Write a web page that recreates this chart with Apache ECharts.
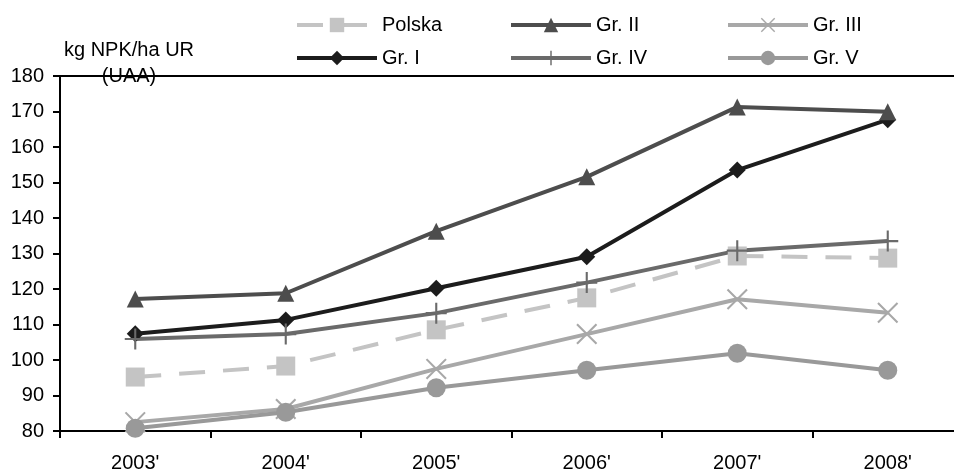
<!DOCTYPE html>
<html><head><meta charset="utf-8">
<script src="https://cdn.jsdelivr.net/npm/echarts@6/dist/echarts.min.js"></script>
<style>html,body{margin:0;padding:0;background:#fff}#c{width:954px;height:473px}</style>
</head><body><div id="c"></div>
<script>
const categories = ["2003'", "2004'", "2005'", "2006'", "2007'", "2008'"];
const polska = [95.2, 98.3, 108.5, 117.5, 129.3, 128.7];
const gr1 = [107.4, 111.3, 120.2, 129.1, 153.5, 167.7];
const gr2 = [117.2, 118.8, 136.3, 151.6, 171.3, 169.9];
const gr3 = [82.5, 86.2, 97.5, 107.3, 117.1, 113.3];
const gr4 = [105.9, 107.3, 113.2, 121.8, 130.8, 133.5];
const gr5 = [80.8, 85.3, 92.2, 97.1, 101.9, 97.1];
const yTicks = {min: 80, max: 180, step: 10};
const axisTitle = "kg NPK/ha UR\n(UAA)";

const xPath = 'path://M0,0.07 L0.07,0 L0.5,0.43 L0.93,0 L1,0.07 L0.57,0.5 L1,0.93 L0.93,1 L0.5,0.57 L0.07,1 L0,0.93 L0.43,0.5 Z';
const plusPath = 'path://M0.45,0 L0.55,0 L0.55,0.45 L1,0.45 L1,0.55 L0.55,0.55 L0.55,1 L0.45,1 L0.45,0.55 L0,0.55 L0,0.45 L0.45,0.45 Z';

function mk(name, data, color, symbol, size, width, dashed) {
  return {
    name, type: 'line', data, symbol, symbolSize: size,
    lineStyle: {color, width, type: dashed ? [26, 18] : 'solid'},
    itemStyle: {color, borderWidth: 0},
    emphasis: {disabled: true}, animation: false
  };
}
const series = [
  mk('Polska', polska, '#c4c4c4', 'rect', 19, 4, true),
  mk('Gr. I', gr1, '#1c1c1c', 'diamond', 17, 4, false),
  mk('Gr. II', gr2, '#4d4d4d', 'triangle', 17, 4, false),
  mk('Gr. III', gr3, '#a8a8a8', xPath, 21, 4, false),
  mk('Gr. IV', gr4, '#6a6a6a', plusPath, 21, 4, false),
  mk('Gr. V', gr5, '#999999', 'circle', 19, 4, false)
];
function lg(name, left, top) {
  return {data: [name], left, top, padding: 0, itemWidth: 80, itemHeight: 18,
    lineStyle: {width: 4},
    textStyle: {fontFamily: 'Liberation Sans', fontSize: 20, color: '#000', padding: [0, 0, 0, 0]},
    selectedMode: false};
}
const chart = echarts.init(document.getElementById('c'));
chart.setOption({
  backgroundColor: '#fff',
  animation: false,
  grid: {left: 60, top: 76, width: 903, height: 355, outerBoundsMode: 'none', containLabel: false,
    show: true, borderColor: '#000', borderWidth: 2, backgroundColor: 'transparent'},
  legend: [lg('Polska', 295, 15), lg('Gr. II', 509, 15), lg('Gr. III', 726, 15),
           lg('Gr. I', 295, 48), lg('Gr. IV', 509, 48), lg('Gr. V', 726, 48)],
  graphic: [{type: 'text', x: 129, y: 37, style: {text: axisTitle, fontFamily: 'Liberation Sans', fontSize: 20, fill: '#000', align: 'center', verticalAlign: 'top', lineHeight: 26}}],
  xAxis: {type: 'category', data: categories, boundaryGap: true,
    axisLine: {lineStyle: {color: '#000', width: 2}},
    axisTick: {show: true, alignWithLabel: false, length: 7, lineStyle: {color: '#000', width: 2}},
    axisLabel: {fontFamily: 'Liberation Sans', fontSize: 20, color: '#000', margin: 22},
    splitLine: {show: false}},
  yAxis: {type: 'value', min: yTicks.min, max: yTicks.max, interval: yTicks.step,
    axisLine: {show: true, lineStyle: {color: '#000', width: 2}},
    axisTick: {show: true, length: 7, lineStyle: {color: '#000', width: 2}},
    axisLabel: {fontFamily: 'Liberation Sans', fontSize: 20, color: '#000', margin: 16},
    splitLine: {show: false}},
  series
});
</script></body></html>
